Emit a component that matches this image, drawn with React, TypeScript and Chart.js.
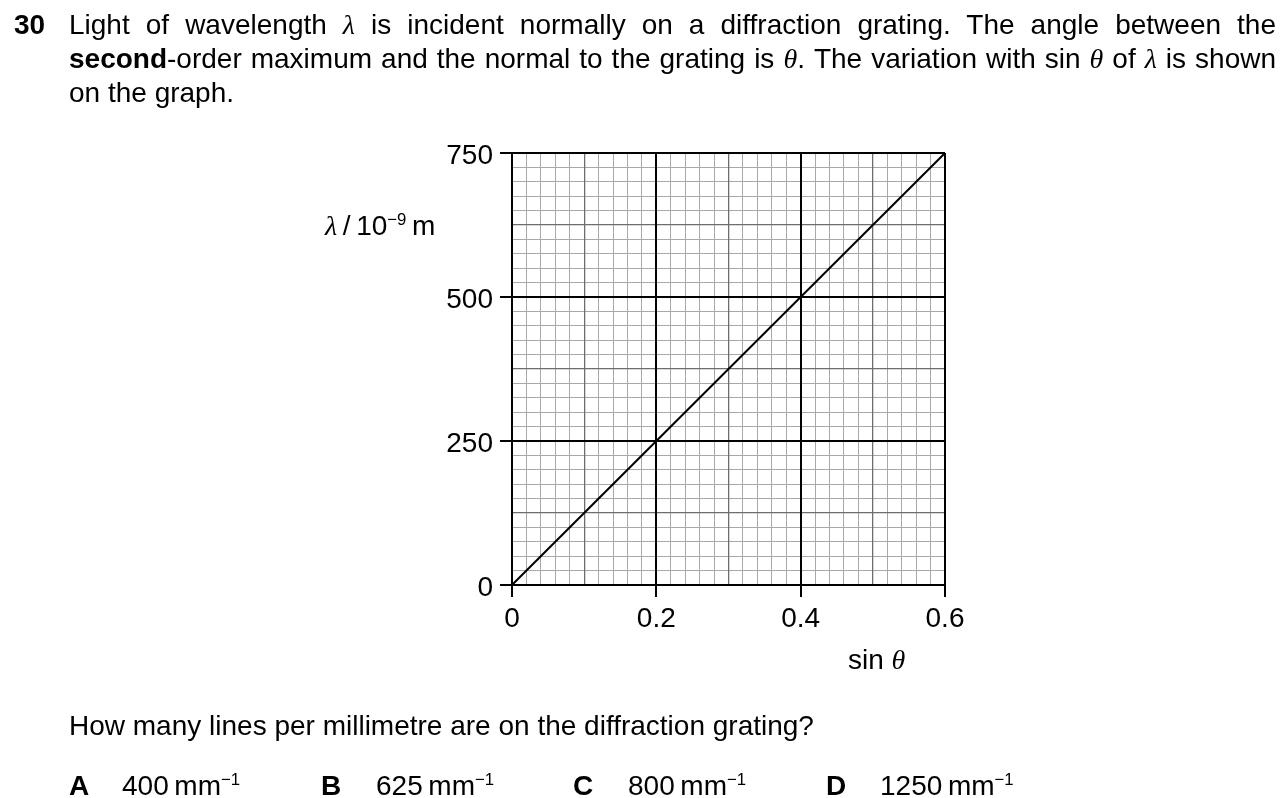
import React, { useEffect, useRef } from 'react';
import { Chart, registerables } from 'chart.js';

Chart.register(...registerables);

// ---- data ----
const sinTheta = [0, 0.6];
const wavelength = [0, 750];
const xTickLabels = ['0', '0.2', '0.4', '0.6'];
const yTickLabels = ['0', '250', '500', '750'];
const xMinorStep = 0.02;
const yMinorStep = 25;
const xMax = 0.6;
const yMax = 750;

const SANS = '"Liberation Sans", Arial, sans-serif';
const SERIF = '"Liberation Serif", "DejaVu Serif", serif';

const gridKind = (value: number, step: number) => {
  const i = Math.round(value / step);
  if (i % 10 === 0) return 2;
  if (i % 5 === 0) return 1;
  return 0;
};
const gridColor = (k: number) => (k === 2 ? '#000000' : k === 1 ? '#6e6e6e' : '#a8a8a8');
const gridWidth = (k: number) => (k === 2 ? 2 : k === 1 ? 1.3 : 1);

// Draw grid layers with 'darken' so grey minor lines never cover black major lines
const darkenGrid = {
  id: 'darkenGrid',
  beforeDraw(chart: any) {
    chart.ctx.globalCompositeOperation = 'darken';
  },
  beforeDatasetsDraw(chart: any) {
    chart.ctx.globalCompositeOperation = 'source-over';
  },
};

const Gk = ({ c }: { c: string }) => (
  <span style={{ fontFamily: SERIF, fontStyle: 'italic' }}>{c}</span>
);

const Sup = ({ t }: { t: string }) => (
  <span style={{ fontSize: '0.6em', position: 'relative', top: '-0.62em' }}>{t}</span>
);

export default function App() {
  const ref = useRef<HTMLCanvasElement | null>(null);

  useEffect(() => {
    document.body.style.margin = '0';
    const canvas = ref.current;
    if (!canvas) return;
    const chart = new Chart(canvas, {
      type: 'line',
      data: {
        datasets: [
          {
            data: sinTheta.map((x, i) => ({ x, y: wavelength[i] })),
            borderColor: '#000',
            borderWidth: 2,
            pointRadius: 0,
            fill: false,
            tension: 0,
          },
        ],
      },
      plugins: [darkenGrid],
      options: {
        responsive: false,
        animation: false,
        devicePixelRatio: 1,
        layout: { padding: { left: 432, top: 153, right: 335, bottom: 153 } },
        plugins: { legend: { display: false }, tooltip: { enabled: false } },
        scales: {
          x: {
            type: 'linear',
            min: 0,
            max: xMax,
            afterFit: (s: any) => {
              s.height = 60;
            },
            border: { display: true, color: '#000', width: 2 },
            grid: {
              drawTicks: true,
              tickLength: 12,
              color: (ctx: any) => gridColor(gridKind(ctx.tick.value, xMinorStep)),
              lineWidth: (ctx: any) => gridWidth(gridKind(ctx.tick.value, xMinorStep)),
              tickColor: (ctx: any) =>
                gridKind(ctx.tick.value, xMinorStep) === 2 ? '#000' : 'rgba(0,0,0,0)',
              tickWidth: 2,
            },
            ticks: {
              stepSize: xMinorStep,
              autoSkip: false,
              maxTicksLimit: 1000,
              maxRotation: 0,
              padding: 5,
              color: '#000',
              font: { family: SANS, size: 28 },
              callback: (v: any) => {
                const i = Math.round(Number(v) / xMinorStep);
                return i % 10 === 0 ? xTickLabels[i / 10] : '';
              },
            },
          },
          y: {
            type: 'linear',
            min: 0,
            max: yMax,
            afterFit: (s: any) => {
              s.width = 80;
            },
            border: { display: true, color: '#000', width: 2 },
            grid: {
              drawTicks: true,
              tickLength: 12,
              color: (ctx: any) => gridColor(gridKind(ctx.tick.value, yMinorStep)),
              lineWidth: (ctx: any) => gridWidth(gridKind(ctx.tick.value, yMinorStep)),
              tickColor: (ctx: any) =>
                gridKind(ctx.tick.value, yMinorStep) === 2 ? '#000' : 'rgba(0,0,0,0)',
              tickWidth: 2,
            },
            ticks: {
              stepSize: yMinorStep,
              autoSkip: false,
              maxTicksLimit: 1000,
              padding: 7,
              labelOffset: 3,
              color: '#000',
              font: { family: SANS, size: 28 },
              callback: (v: any) => {
                const i = Math.round(Number(v) / yMinorStep);
                return i % 10 === 0 ? yTickLabels[i / 10] : '';
              },
            },
          },
        },
      },
    } as any);
    return () => chart.destroy();
  }, []);

  const line: React.CSSProperties = {
    position: 'absolute',
    fontFamily: SANS,
    fontSize: 28,
    lineHeight: '34px',
    color: '#000',
    whiteSpace: 'nowrap',
  };

  return (
    <div
      style={{
        position: 'absolute',
        left: 0,
        top: 0,
        width: 1280,
        height: 798,
        background: '#fff',
        overflow: 'hidden',
      }}
    >
      <canvas ref={ref} width={1280} height={798} style={{ position: 'absolute', left: 0, top: 0, width: 1280, height: 798 }} />

      <div style={{ ...line, left: 14, top: 8, fontWeight: 'bold' }}>30</div>
      <div style={{ ...line, left: 69, top: 8, width: 1207, textAlign: 'justify', textAlignLast: 'justify' }}>
        Light of wavelength <Gk c="λ" /> is incident normally on a diffraction grating. The angle between the
      </div>
      <div style={{ ...line, left: 69, top: 42, width: 1207, textAlign: 'justify', textAlignLast: 'justify' }}>
        <b>second</b>-order maximum and the normal to the grating is <Gk c="θ" />. The variation with sin <Gk c="θ" /> of <Gk c="λ" /> is shown
      </div>
      <div style={{ ...line, left: 69, top: 76 }}>on the graph.</div>

      <div style={{ ...line, left: 325, top: 209 }}>
        <Gk c="λ" />&thinsp;/&thinsp;10<Sup t="−9" />&thinsp;m
      </div>
      <div style={{ ...line, left: 848, top: 643 }}>
        sin <Gk c="θ" />
      </div>

      <div style={{ ...line, left: 69, top: 709 }}>
        How many lines per millimetre are on the diffraction grating?
      </div>

      <div style={{ ...line, left: 69, top: 769, fontWeight: 'bold' }}>A</div>
      <div style={{ ...line, left: 122, top: 769 }}>400&thinsp;mm<Sup t="−1" /></div>
      <div style={{ ...line, left: 321, top: 769, fontWeight: 'bold' }}>B</div>
      <div style={{ ...line, left: 376, top: 769 }}>625&thinsp;mm<Sup t="−1" /></div>
      <div style={{ ...line, left: 573, top: 769, fontWeight: 'bold' }}>C</div>
      <div style={{ ...line, left: 628, top: 769 }}>800&thinsp;mm<Sup t="−1" /></div>
      <div style={{ ...line, left: 826, top: 769, fontWeight: 'bold' }}>D</div>
      <div style={{ ...line, left: 880, top: 769 }}>1250&thinsp;mm<Sup t="−1" /></div>
    </div>
  );
}
